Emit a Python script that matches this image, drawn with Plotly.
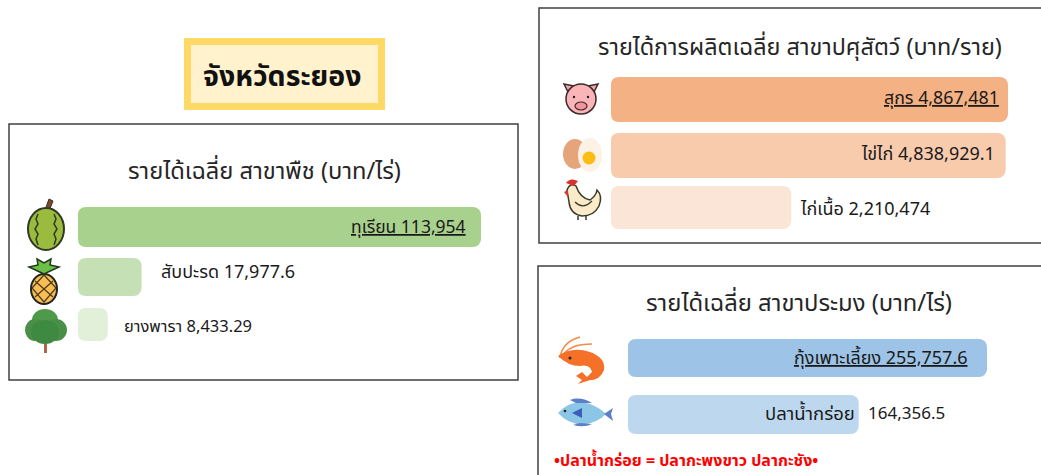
import plotly.graph_objects as go

W, H = 1041, 475
FONT = "Noto Sans, Noto Sans Thai, Tahoma, sans-serif"

plant_names = ["ทุเรียน", "สับปะรด", "ยางพารา"]
plant_values = [113954, 17977.6, 8433.29]
plant_labels = ["<u>ทุเรียน 113,954</u>", "สับปะรด 17,977.6", "ยางพารา 8,433.29"]

animal_names = ["สุกร", "ไข่ไก่", "ไก่เนื้อ"]
animal_values = [4867481, 4838929.1, 2210474]
animal_labels = ["<u>สุกร 4,867,481</u>", "ไข่ไก่ 4,838,929.1", "ไก่เนื้อ 2,210,474"]

fish_names = ["กุ้งเพาะเลี้ยง", "ปลาน้ำกร่อย"]
fish_values = [255757.6, 164356.5]
fish_labels = ["<u>กุ้งเพาะเลี้ยง 255,757.6</u>", "ปลาน้ำกร่อย"]
fish_value_label = "164,356.5"

province = "จังหวัดระยอง"
plant_title = "รายได้เฉลี่ย สาขาพืช (บาท/ไร่)"
animal_title = "รายได้การผลิตเฉลี่ย สาขาปศุสัตว์ (บาท/ราย)"
fish_title = "รายได้เฉลี่ย สาขาประมง (บาท/ไร่)"
fish_note = "•ปลาน้ำกร่อย = ปลากะพงขาว ปลากะชัง•"

fig = go.Figure()


def shape(kind, x0=0, y0=0, x1=0, y1=0, path=None, fill=None, line="rgba(0,0,0,0)", lw=0, layer="above"):
    d = dict(type=kind, xref="x4", yref="y4", layer=layer, line=dict(color=line, width=lw))
    if fill:
        d["fillcolor"] = fill
    if path:
        d["path"] = path
    else:
        d.update(x0=x0, y0=y0, x1=x1, y1=y1)
    fig.add_shape(**d)


def oval(cx, cy, rx, ry, fill, line="rgba(0,0,0,0)", lw=0):
    shape("circle", cx - rx, cy - ry, cx + rx, cy + ry, fill=fill, line=line, lw=lw)


def curve(p, fill=None, line="rgba(0,0,0,0)", lw=0):
    shape("path", path=p, fill=fill, line=line, lw=lw)


# one bar panel: x span / y span in page pixels, bands = top and bottom of each bar
def add_panel(n, names, values, colors, xspan, yspan, bands):
    unit = (yspan[1] - yspan[0]) / len(names)
    widths = [(b - t) / unit for t, b in bands]
    offsets = [(t - yspan[0]) / unit - 0.5 - i for i, (t, b) in enumerate(bands)]
    fig.add_trace(go.Bar(
        x=values, y=names, orientation="h", width=widths, offset=offsets,
        marker=dict(color=colors, cornerradius=8, line_width=0),
        xaxis="x" + str(n), yaxis="y" + str(n), showlegend=False,
    ))
    fig.update_layout({
        "xaxis" + str(n): dict(domain=[xspan[0] / W, xspan[1] / W], range=[0, max(values)], visible=False),
        "yaxis" + str(n): dict(domain=[1 - yspan[1] / H, 1 - yspan[0] / H], range=[len(names) - 0.5, -0.5],
                               visible=False, anchor="x" + str(n)),
    })
    # plotly only rounds the far end of a bar, so round the near end with white corners
    x0 = xspan[0]
    for t, b in bands:
        curve(f"M {x0 - 1} {t - 1} L {x0 + 8} {t - 1} L {x0 + 8} {t} Q {x0} {t} {x0} {t + 8} L {x0 - 1} {t + 8} Z", fill="white")
        curve(f"M {x0 - 1} {b + 1} L {x0 + 8} {b + 1} L {x0 + 8} {b} Q {x0} {b} {x0} {b - 8} L {x0 - 1} {b - 8} Z", fill="white")


add_panel(1, plant_names, plant_values, ["#A9D18E", "#C5E0B4", "#E2F0D9"], (78, 481), (200, 350),
          [(207, 247), (258, 296), (308, 341)])
add_panel(2, animal_names, animal_values, ["#F4B183", "#F8CBAD", "#FBE5D6"], (611, 1008), (70, 235),
          [(77, 122), (133, 178), (186, 229)])
add_panel(3, fish_names, fish_values, ["#9DC3E6", "#BDD7EE"], (628, 987), (330, 440),
          [(339, 377), (395, 434)])

# overlay axes in page pixels, for frames and icons
fig.update_layout(
    xaxis4=dict(domain=[0, 1], range=[0, W], visible=False),
    yaxis4=dict(domain=[0, 1], range=[H, 0], visible=False, anchor="x4"),
)

# frames
shape("rect", 9, 124, 518, 380, line="#404040", lw=1.5)
shape("rect", 539, 8, 1060, 243, line="#404040", lw=1.5)
shape("rect", 538, 266, 1060, 490, line="#404040", lw=1.5)
shape("rect", 187.5, 41.5, 381.5, 106.5, fill="#FFF2CC", line="#FFD966", lw=7, layer="below")

# durian
curve("M 45 210 L 49 199 L 53 201 L 49 211 Z", fill="#7B4A2E", line="#3A2A20", lw=1)
oval(46, 229, 18, 21, "#9BBB3F", "#2F3A20", 2)
curve("M 38 214 L 36 219 L 38 224 L 35 229 L 38 234 L 36 239 L 38 245", line="#2F3A20", lw=1.5)
curve("M 54 214 L 56 219 L 54 224 L 57 229 L 54 234 L 56 239 L 54 245", line="#2F3A20", lw=1.5)

# pineapple
oval(44, 289, 13, 15, "#F7BE55", "#222222", 2)
curve("M 35 281 L 53 297 M 35 297 L 53 281 M 44 275 L 32 288 L 44 302 L 56 288 Z", line="#4A3A18", lw=1.2)
curve("M 44 274 L 29 267 L 38 265 L 37 259 L 44 263 L 51 259 L 50 265 L 59 267 Z", fill="#6CC04A", line="#1F3A1A", lw=1.5)

# rubber tree
curve("M 44 338 L 47 338 L 47 353 L 44 353 Z", fill="#B0644A")
oval(45, 320, 13, 11, "#4E9A4A")
oval(35, 330, 10, 11, "#4A8F48")
oval(56, 330, 11, 11, "#4A8F48")
oval(45, 332, 14, 12, "#3F8A42")

# pig
curve("M 568 92 L 564 84 L 574 86 Z", fill="#F4A6AE", line="#3A2A2A", lw=1.5)
curve("M 594 92 L 598 84 L 588 86 Z", fill="#F4A6AE", line="#3A2A2A", lw=1.5)
oval(581, 99, 15, 15, "#FBB4B8", "#3A2A2A", 1.5)
oval(581, 106, 6, 4, "#F4959E", "#3A2A2A", 1.2)
oval(574, 97, 1.2, 1.2, "#222222")
oval(588, 97, 1.2, 1.2, "#222222")

# egg
oval(575, 154, 12, 15, "#E6A47A")
oval(590, 155, 12, 17, "#FBF1E4")
oval(589, 158, 6.5, 6.5, "#FBBC14")

# chicken
curve("M 567 190 Q 570 182 576 186 Q 580 198 590 200 Q 596 196 597 190 Q 603 196 599 206 Q 594 216 582 216 "
      "Q 570 214 569 202 Z", fill="#FBEBC8", line="#3A3A2A", lw=1.5)
curve("M 566 183 Q 570 177 578 181 L 574 186 Z", fill="#D8342C")
curve("M 564 192 L 568 190 L 568 197 Z", fill="#D8342C")
curve("M 575 202 Q 583 210 592 201", line="#3A3A2A", lw=1.2)
curve("M 578 216 L 578 220 M 586 216 L 586 220", line="#3A3A2A", lw=1.5)

# shrimp
curve("M 560 358 Q 562 342 580 337", line="#F58A4A", lw=1.5)
curve("M 563 355 Q 570 344 592 344", line="#F58A4A", lw=1.5)
curve("M 558 356 Q 572 346 590 352 Q 606 358 604 370 Q 600 382 584 380 L 592 372 Q 590 364 580 366 Q 568 366 558 356 Z",
      fill="#F5712A")
curve("M 582 372 L 576 376 L 582 380 L 578 384 L 590 380 Z", fill="#F5712A")
oval(570, 358, 1.5, 1.5, "#222222")

# fish
curve("M 558 413 Q 572 398 590 404 Q 600 408 606 414 Q 598 422 586 424 Q 570 426 558 413 Z", fill="#8CC6E6")
curve("M 604 414 L 613 408 L 611 414 L 613 421 Z", fill="#5C7FC8")
curve("M 570 400 Q 580 396 592 403 L 576 403 Z", fill="#5C7FC8")
curve("M 573 425 Q 584 428 592 424 L 580 423 Z", fill="#5C7FC8")
curve("M 572 413 L 582 408 L 582 418 Z", fill="#3B5FB8")
oval(565, 411, 1.3, 1.3, "#222222")


def text(x, y, s, size=14.5, color="#1A1A1A", xanchor="center", bold=False):
    s = "<b>" + s + "</b>" if bold else s
    fig.add_annotation(x=x, y=y, xref="x4", yref="y4", text=s, showarrow=False, xanchor=xanchor,
                       font=dict(family=FONT, size=size, color=color))


def bar_label(n, value, name, s, xanchor, shift, size, yshift=0):
    fig.add_annotation(x=value, y=name, xref="x" + str(n), yref="y" + str(n), text=s, showarrow=False,
                       xanchor=xanchor, xshift=shift, yshift=yshift, font=dict(family=FONT, size=size, color="#1A1A1A"))


text(282, 75, province, size=28.5, bold=True, color="#111111")
text(264.5, 170, plant_title, size=23.7, color="#262626")
text(800, 46, animal_title, size=23.4, color="#262626")
text(799, 302, fish_title, size=23.8, color="#262626")
text(552, 460, fish_note, size=16, color="#FF0000", xanchor="left", bold=True)

bar_label(1, plant_values[0], plant_names[0], plant_labels[0], "right", -13, 17.5, -1)
bar_label(1, plant_values[1], plant_names[1], plant_labels[1], "left", 17, 18, 4)
bar_label(1, plant_values[2], plant_names[2], plant_labels[2], "left", 14, 16.5)
bar_label(2, animal_values[0], animal_names[0], animal_labels[0], "right", -7, 17.8, 1)
bar_label(2, animal_values[1], animal_names[1], animal_labels[1], "right", -9, 18)
bar_label(2, animal_values[2], animal_names[2], animal_labels[2], "left", 7, 18, 0)
bar_label(3, fish_values[0], fish_names[0], fish_labels[0], "right", -17, 18, 1)
bar_label(3, fish_values[1], fish_names[1], fish_labels[1], "right", -2, 18.5)
bar_label(3, fish_values[1], fish_names[1], fish_value_label, "left", 7, 17)

fig.update_layout(
    width=W, height=H, margin=dict(l=0, r=0, t=0, b=0),
    paper_bgcolor="white", plot_bgcolor="rgba(0,0,0,0)", showlegend=False,
)
# the page's default body margin would push the figure 8px off
fig.write_html("out.html", post_script="document.body.style.margin='0';", config=dict(displayModeBar=False))
